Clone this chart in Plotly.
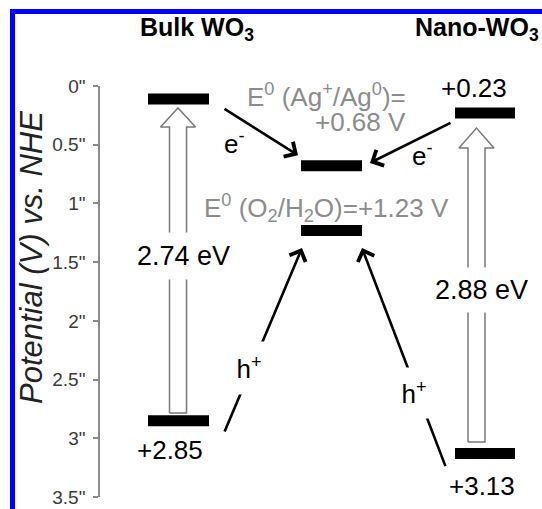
import plotly.graph_objects as go

# ---------------- data ----------------
materials = ["Bulk WO<sub>3</sub>", "Nano-WO<sub>3</sub>"]
cb_potentials = [0.11, 0.23]          # conduction band edge (V vs NHE)
vb_potentials = [2.85, 3.13]          # valence band edge (V vs NHE)
band_gaps = [2.74, 2.88]              # eV
cb_labels = ["+0.11", "+0.23"]
vb_labels = ["+2.85", "+3.13"]
gap_labels = ["2.74 eV", "2.88 eV"]
redox_potentials = [0.68, 1.23]       # Ag+/Ag0, O2/H2O
redox_label_ag = ["E<sup>0</sup> (Ag<sup>+</sup>/Ag<sup>0</sup>)=", "+0.68 V"]
redox_label_o2 = "E<sup>0</sup> (O<sub>2</sub>/H<sub>2</sub>O)=+1.23 V"
tick_values = [0, 0.5, 1, 1.5, 2, 2.5, 3, 3.5]
tick_labels = ['0"', '0.5"', '1"', '1.5"', '2"', '2.5"', '3"', '3.5"']

# ---------------- layout constants (horizontal positions, styles) ----------------
W, H = 542, 509
ML, MT, MB = 100, 86, 12
FONT = "Liberation Sans, Arial, Helvetica, sans-serif"
GRAY = "#8c8c8c"

col_bar = [(148, 209), (455, 515)]      # band-edge bar extents
col_arrow_x = [178, 476.5]              # hollow arrow centre
redox_bar = (301, 362)
tip_gap = [0.077, 0.128]                # hollow arrow tip below CB
base_gap = [0.065, 0.098]               # hollow arrow base above VB
head_h = [0.162, 0.17]
shaft_hw, head_hw = 8.5, 17.5


def px2paper_x(px):
    return (px - ML) / (W - ML)


def px2paper_y(py):
    return (H - MB - py) / (H - MB - MT)


fig = go.Figure()

# hollow band-gap arrows
for i in range(2):
    cx = col_arrow_x[i]
    yb = vb_potentials[i] - base_gap[i]
    yt = cb_potentials[i] + tip_gap[i]
    yh = yt + head_h[i]
    xs = [cx - shaft_hw, cx - shaft_hw, cx - head_hw, cx, cx + head_hw, cx + shaft_hw, cx + shaft_hw, cx - shaft_hw]
    ys = [yb, yh, yh, yt, yh, yh, yb, yb]
    fig.add_trace(go.Scatter(x=xs, y=ys, mode="lines", fill="toself", fillcolor="white",
                             line=dict(color="#7a7a7a", width=1.5), hoverinfo="skip", showlegend=False))

# band edge bars
for i in range(2):
    for v in (cb_potentials[i], vb_potentials[i]):
        fig.add_trace(go.Scatter(x=list(col_bar[i]), y=[v, v], mode="lines",
                                 line=dict(color="black", width=11), hoverinfo="skip", showlegend=False))
# redox bars
for v in redox_potentials:
    fig.add_trace(go.Scatter(x=list(redox_bar), y=[v, v], mode="lines",
                             line=dict(color="black", width=11), hoverinfo="skip", showlegend=False))

ann = []


def arrow(x, y, ax, ay):
    ann.append(dict(x=x, y=y, ax=ax, ay=ay, xref="x", yref="y", axref="x", ayref="y",
                    showarrow=True, arrowhead=4, arrowsize=1.3, arrowwidth=2.6,
                    arrowcolor="black", text=""))


ag, o2 = redox_potentials
# electron transfer arrows
arrow(298, ag - 0.09, 223, cb_potentials[0] + 0.077)
arrow(370, ag - 0.025, 452, cb_potentials[1] + 0.077)
# hole transfer arrows
arrow(302, o2 + 0.15, 224, vb_potentials[0] + 0.105)
arrow(362, o2 + 0.15, 446, vb_potentials[1] + 0.12)


def text(x, y, s, size, color="black", xanchor="center", yref="y", **kw):
    d = dict(x=x, y=y, xref="x", yref=yref, text=s, showarrow=False, xanchor=xanchor,
             yanchor="middle", font=dict(family=FONT, size=size, color=color))
    d.update(kw)
    ann.append(d)


# band edge labels
text(181.5, cb_potentials[0] - 0.238, cb_labels[0], 26)
text(474, cb_potentials[1] - 0.213, cb_labels[1], 26)
text(170, vb_potentials[0] + 0.25, vb_labels[0], 26)
text(482, vb_potentials[1] + 0.276, vb_labels[1], 26)

# band gap labels (white background interrupts the hollow arrow)
text(183.5, (cb_potentials[0] + vb_potentials[0]) / 2 - 0.03, gap_labels[0], 27,
     bgcolor="white", height=44)
text(481, (cb_potentials[1] + vb_potentials[1]) / 2 + 0.06, gap_labels[1], 27,
     bgcolor="white", height=42)

# carrier labels
text(234, 0.485, "e<sup>-</sup>", 26)
text(422, 0.585, "e<sup>-</sup>", 26)
text(249, 2.40, "h<sup>+</sup>", 26, bgcolor="white", width=36, height=50)
text(414, 2.614, "h<sup>+</sup>", 26, bgcolor="white", width=36, height=48)

# redox labels
text(408, ag - 0.595, redox_label_ag[0], 26, color=GRAY, xanchor="right")
text(408, ag - 0.372, redox_label_ag[1], 26, color=GRAY, xanchor="right")
text(202, o2 - 0.19, redox_label_o2, 26, color=GRAY, xanchor="left")

# titles
ann.append(dict(x=197, y=px2paper_y(29), xref="x", yref="paper", text="<b>" + materials[0] + "</b>",
                showarrow=False, xanchor="center", yanchor="middle",
                font=dict(family=FONT, size=25, color="black")))
ann.append(dict(x=541, y=px2paper_y(29), xref="x", yref="paper", text="<b>" + materials[1] + "</b>",
                showarrow=False, xanchor="right", yanchor="middle",
                font=dict(family=FONT, size=25, color="black")))

# y axis title
ann.append(dict(x=px2paper_x(31), y=px2paper_y(258), xref="paper", yref="paper",
                text="<i>Potential (V) vs. NHE</i>", textangle=-90, showarrow=False,
                xanchor="center", yanchor="middle",
                font=dict(family=FONT, size=31, color="#222222")))

# blue frame (top and left edges)
shapes = [
    dict(type="line", xref="paper", yref="paper", x0=px2paper_x(12.5), x1=px2paper_x(545),
         y0=px2paper_y(11.5), y1=px2paper_y(11.5), line=dict(color="#0000ff", width=5)),
    dict(type="line", xref="paper", yref="paper", x0=px2paper_x(12.5), x1=px2paper_x(12.5),
         y0=px2paper_y(9), y1=px2paper_y(515), line=dict(color="#0000ff", width=5)),
]

fig.update_layout(
    width=W, height=H, margin=dict(l=ML, r=0, t=MT, b=MB),
    paper_bgcolor="white", plot_bgcolor="white",
    showlegend=False, annotations=ann, shapes=shapes,
    xaxis=dict(range=[ML, W], visible=False, fixedrange=True),
    yaxis=dict(range=[3.5, 0], tickvals=tick_values, ticktext=tick_labels,
               ticks="outside", ticklen=5, tickwidth=1.5, tickcolor="#8a8a8a",
               showline=True, linecolor="#8a8a8a", linewidth=1.5,
               showgrid=False, zeroline=False, ticklabelstandoff=4,
               tickfont=dict(family=FONT, size=19, color="#3a3a3a")),
)

fig.write_html("out.html", config={"displayModeBar": False},
               post_script="document.body.style.margin='0px';document.body.style.overflow='hidden';")
